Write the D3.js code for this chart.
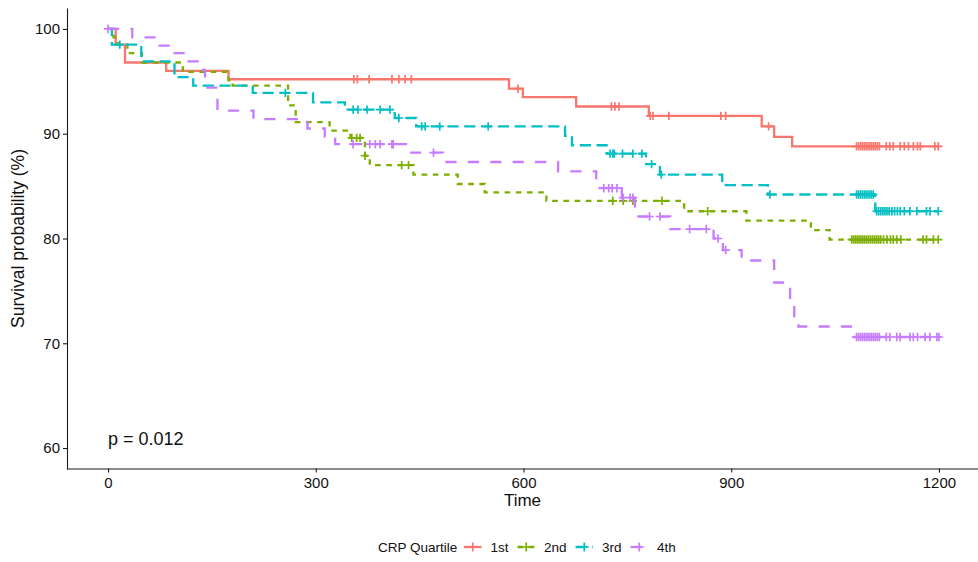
<!DOCTYPE html>
<html>
<head>
<meta charset="utf-8">
<script src="https://cdn.jsdelivr.net/npm/d3@7"></script>
<style>
  html, body { margin: 0; padding: 0; background: #fff; }
  svg { display: block; }
  text { font-family: "Liberation Sans", Arial, Helvetica, sans-serif; }
</style>
</head>
<body>
<svg id="chart" width="978" height="562"></svg>
<script>
// ---------------- DATA ----------------
const seriesNames = ["1st", "2nd", "3rd", "4th"];
const legendTitle = "CRP Quartile";
const xTicks = [0, 300, 600, 900, 1200];
const yTicks = [60, 70, 80, 90, 100];
const pValueText = "p = 0.012";

const times1 = [0, 11, 24.5, 84, 174, 579, 599, 676, 781, 944, 962, 988, 1200];
const surv1  = [100, 98.5, 96.8, 96.0, 95.2, 94.3, 93.5, 92.6, 91.7, 90.7, 89.7, 88.8, 88.8];
const censor1 = [355, 360, 377, 410, 420, 429, 438, 592, 727, 732, 738, 783, 787, 810, 885, 892, 954,
  1081, 1084, 1087, 1090, 1093, 1096, 1099, 1102, 1105, 1108, 1111, 1114,
  1124, 1129, 1134, 1144, 1150, 1156, 1163, 1169, 1173, 1194, 1199];

const times2 = [0, 8, 14, 28, 49, 108, 174, 180, 260, 271, 320, 350, 371, 378, 441, 505, 544, 633, 832, 922, 1015, 1042, 1200];
const surv2  = [100, 99.2, 98.5, 97.7, 96.8, 95.9, 95.1, 94.6, 92.7, 91.1, 90.3, 89.6, 87.9, 87.0, 86.1, 85.2, 84.4, 83.6, 82.6, 81.7, 80.8, 79.9, 79.9];
const censor2 = [352, 359, 364, 371, 424, 434, 729, 744, 758, 800, 866,
  1074, 1077, 1080, 1083, 1086, 1089, 1092, 1095, 1098, 1101, 1104, 1107, 1110, 1113, 1116, 1120, 1125, 1130, 1134,
  1139, 1145, 1177, 1182, 1192, 1199];

const times3 = [0, 5.5, 48, 96, 123, 209, 296, 342, 414, 445, 660, 670, 720, 777, 797, 887, 953, 1108, 1200];
const surv3  = [100, 98.5, 96.9, 95.4, 94.6, 93.9, 93.0, 92.3, 91.5, 90.7, 89.8, 88.9, 88.1, 87.1, 86.1, 85.1, 84.2, 82.6, 82.6];
const censor3 = [17, 256, 354, 361, 374, 393, 407, 420, 453, 458, 479, 549, 725, 729, 731, 743, 758, 771, 785, 799, 956,
  1081, 1084, 1087, 1090, 1093, 1096, 1099, 1102, 1105,
  1110, 1113, 1116, 1119, 1122, 1125, 1128, 1132, 1136, 1140, 1144, 1150, 1158, 1168, 1182, 1187, 1199];

const times4 = [0, 35, 71, 92, 113, 133, 140, 158, 210, 288, 313, 328, 436, 484, 650, 705, 742, 761, 812, 874.5, 888, 915, 962, 985, 991, 997, 1076, 1200];
const surv4  = [100, 99.2, 98.4, 97.7, 96.9, 96.1, 94.4, 92.2, 91.4, 90.5, 89.7, 89.0, 88.2, 87.3, 86.4, 84.8, 83.9, 82.1, 80.9, 80.0, 78.9, 77.9, 75.8, 73.7, 72.6, 71.6, 70.6, 70.6];
const censor4 = [0, 354, 378, 386, 393, 410, 412, 470, 716, 723, 728, 735, 744, 754, 758, 782, 797, 840, 864, 881, 892,
  1081, 1084, 1087, 1090, 1093, 1096, 1099, 1102, 1105, 1108, 1111, 1114,
  1124, 1129, 1139, 1144, 1158, 1163, 1169, 1180, 1187, 1197, 1200];

const seriesTimes = [times1, times2, times3, times4];
const seriesSurv = [surv1, surv2, surv3, surv4];
const seriesCensor = [censor1, censor2, censor3, censor4];
const colors = ["#F8766D", "#7CAE00", "#00BFC4", "#C77CFF"];
const dashes = [null, "5.6,5.6", "11.2,5.6", "11.2,11.2"];

// ---------------- CHART ----------------
const svg = d3.select("#chart");
const panel = { left: 66.5, right: 980.5, top: 8, bottom: 469 };

const x = d3.scaleLinear().domain([-60, 1260]).range([panel.left, panel.right]);
const y = d3.scaleLinear().domain([58, 102]).range([panel.bottom, panel.top]);

const lineW = 2.3;

function stepValue(times, surv, t) {
  let v = surv[0];
  for (let i = 0; i < times.length; i++) { if (times[i] <= t) v = surv[i]; }
  return v;
}

const lineGen = d3.line().x(d => x(d[0])).y(d => y(d[1])).curve(d3.curveStepAfter);

const curves = svg.append("g");
seriesNames.forEach((name, i) => {
  const pts = seriesTimes[i].map((t, j) => [t, seriesSurv[i][j]]);
  const g = curves.append("g");
  g.append("path")
    .attr("d", lineGen(pts))
    .attr("fill", "none")
    .attr("stroke", colors[i])
    .attr("stroke-width", lineW)
    .attr("stroke-dasharray", dashes[i]);
  const s = 4.2;
  g.selectAll("path.cens").data(seriesCensor[i]).enter().append("path")
    .attr("class", "cens")
    .attr("d", t => {
      const cx = x(t), cy = y(stepValue(seriesTimes[i], seriesSurv[i], t));
      return `M${cx - s},${cy}H${cx + s}M${cx},${cy - s}V${cy + s}`;
    })
    .attr("stroke", colors[i])
    .attr("stroke-width", 1.7)
    .attr("fill", "none");
});

// Axes
const axisColor = "#1a1a1a";
const xAxis = svg.append("g")
  .attr("transform", `translate(0,${panel.bottom - 0.5})`)
  .call(d3.axisBottom(x).tickValues(xTicks).tickFormat(d3.format("d")).tickSize(4).tickSizeOuter(0).tickPadding(4.5));
const yAxis = svg.append("g")
  .attr("transform", `translate(${panel.left + 0.5},0)`)
  .call(d3.axisLeft(y).tickValues(yTicks).tickFormat(d3.format("d")).tickSize(4).tickSizeOuter(0).tickPadding(3));
[xAxis, yAxis].forEach(a => {
  a.select(".domain").attr("stroke", axisColor).attr("stroke-width", 1.1);
  a.selectAll(".tick line").attr("stroke", axisColor).attr("stroke-width", 1.1);
  a.selectAll(".tick text").attr("fill", "#111").style("font-size", "15px")
    .style("font-family", '"Liberation Sans", Arial, sans-serif');
});

// Axis titles
svg.append("text")
  .attr("x", (panel.left + panel.right) / 2 - 1)
  .attr("y", 506)
  .attr("text-anchor", "middle")
  .style("font-size", "17px")
  .attr("fill", "#111")
  .text("Time");
svg.append("text")
  .attr("transform", `translate(24,${(panel.top + panel.bottom) / 2}) rotate(-90)`)
  .attr("text-anchor", "middle")
  .style("font-size", "17.5px")
  .attr("fill", "#111")
  .text("Survival probability (%)");

// p-value
svg.append("text")
  .attr("x", x(0))
  .attr("y", y(60) - 3)
  .style("font-size", "18px")
  .attr("fill", "#111")
  .text(pValueText);

// Legend
const leg = svg.append("g");
const legY = 547;
const title = leg.append("text")
  .attr("x", 378).attr("y", legY + 4.5)
  .style("font-size", "13.5px").attr("fill", "#111")
  .text(legendTitle);
let cursor = 378 + title.node().getComputedTextLength() + 6.7;
const keyW = 17.5;
seriesNames.forEach((name, i) => {
  const kx = cursor;
  leg.append("line")
    .attr("x1", kx).attr("x2", kx + keyW)
    .attr("y1", legY).attr("y2", legY)
    .attr("stroke", colors[i]).attr("stroke-width", lineW)
    .attr("stroke-dasharray", dashes[i]);
  const cx = kx + keyW / 2, s = 4.5;
  leg.append("path")
    .attr("d", `M${cx - s},${legY}H${cx + s}M${cx},${legY - s}V${legY + s}`)
    .attr("stroke", colors[i]).attr("stroke-width", 1.7);
  const lbl = leg.append("text")
    .attr("x", kx + keyW + 9).attr("y", legY + 4.5)
    .style("font-size", "13.5px").attr("fill", "#111")
    .text(name);
  cursor = kx + keyW + 9 + lbl.node().getComputedTextLength() + 9;
});
</script>
</body>
</html>
